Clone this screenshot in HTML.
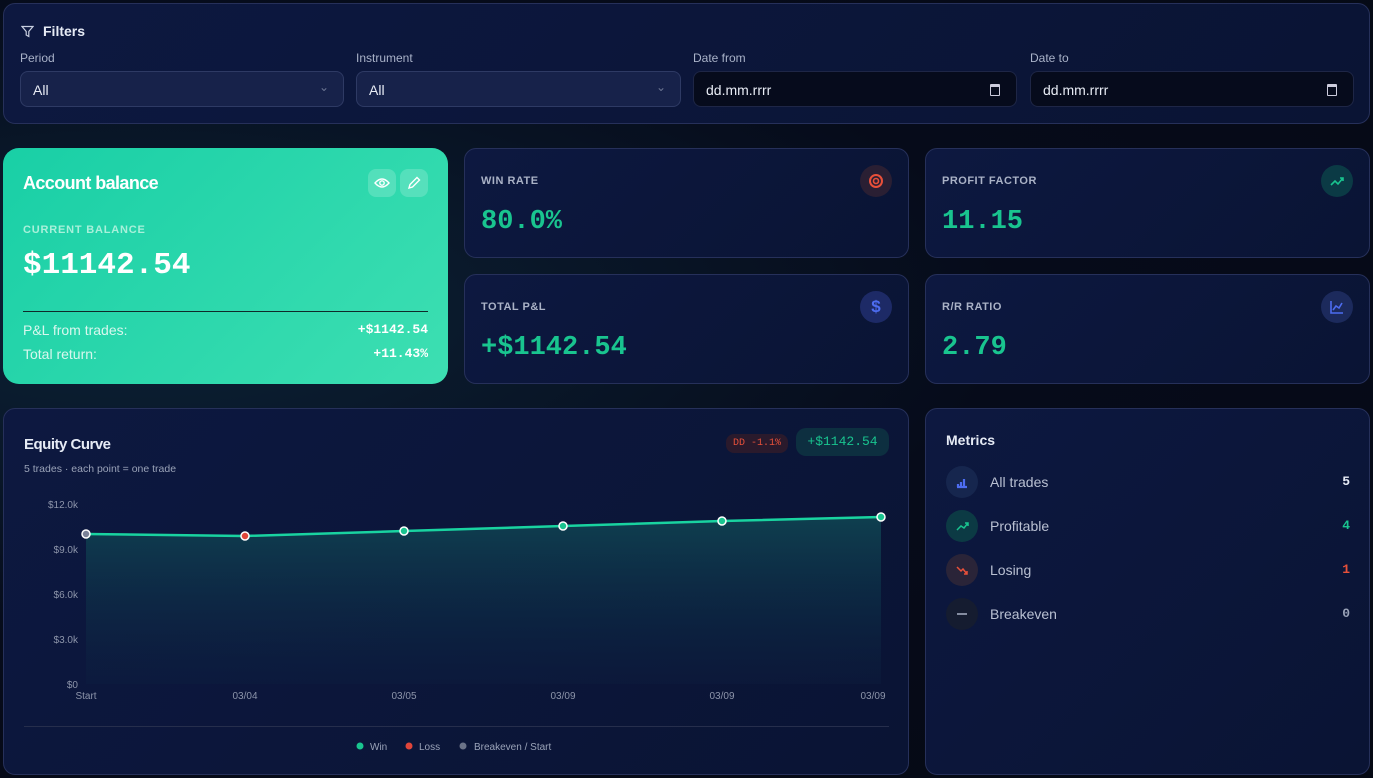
<!DOCTYPE html>
<html><head><meta charset="utf-8"><style>
*{box-sizing:border-box;margin:0;padding:0}
body{width:1373px;height:778px;overflow:hidden;background:radial-gradient(ellipse at 10% 40%,#0c2236 0%,#060b1a 50%,#050914 100%);font-family:"Liberation Sans",sans-serif;color:#e6ebf5;position:relative}
.p{position:absolute;border:1px solid #26305a;border-radius:12px;background:linear-gradient(135deg,#0d1840,#0a1434)}
.lbl{position:absolute;font-size:12px;color:#a9b2c8}
.inp{position:absolute;top:71px;height:36px;border-radius:8px;border:1px solid #2e3a64;background:#17224a;font-size:14px;padding:10px 12px;color:#e8ecf5}
.inp.d{background:#060b1c;border-color:#1e2646}
.mono{font-family:"Liberation Mono",monospace}
.sl{position:absolute;left:16px;top:26px;font-size:11px;font-weight:bold;letter-spacing:.5px;color:#aab2c6}
.sv{position:absolute;left:16px;top:58px;font-size:27px;font-weight:bold;color:#19c48f}
.ic{position:absolute;right:16px;top:16px;width:32px;height:32px;border-radius:50%}
.mr{position:absolute;left:20px;height:32px;width:404px}
.mr .c{position:absolute;left:0;top:0;width:32px;height:32px;border-radius:50%}
.mr .t{position:absolute;left:44px;top:8px;font-size:14px;color:#b9c0d2}
.mr .n{position:absolute;right:0;top:8px;font-size:13px;font-weight:bold}
</style></head><body>
<div class="p" style="left:3px;top:3px;width:1367px;height:121px">
 <svg style="position:absolute;left:17px;top:21px" width="13" height="13" viewBox="0 0 13 13"><path d="M1 1.5h11L7.8 6.5v5L5.2 10V6.5z" fill="none" stroke="#c8cfe0" stroke-width="1.2"/></svg>
 <div style="position:absolute;left:39px;top:19px;font-size:14px;font-weight:bold">Filters</div>
</div>
<div class="lbl" style="left:20px;top:51px">Period</div>
<div class="lbl" style="left:356px;top:51px">Instrument</div>
<div class="lbl" style="left:693px;top:51px">Date from</div>
<div class="lbl" style="left:1030px;top:51px">Date to</div>
<div class="inp" style="left:20px;width:324px">All<span style="position:absolute;right:14px;top:8px;color:#6b7592;font-size:12px">&#8964;</span></div>
<div class="inp" style="left:356px;width:325px">All<span style="position:absolute;right:14px;top:8px;color:#6b7592;font-size:12px">&#8964;</span></div>
<div class="inp d" style="left:693px;width:324px">dd.mm.rrrr<span style="position:absolute;right:16px;top:12px;width:10px;height:12px;border:1.5px solid #ccd;border-top-width:3px;border-radius:1px"></span></div>
<div class="inp d" style="left:1030px;width:324px">dd.mm.rrrr<span style="position:absolute;right:16px;top:12px;width:10px;height:12px;border:1.5px solid #ccd;border-top-width:3px;border-radius:1px"></span></div>

<div style="position:absolute;left:3px;top:148px;width:445px;height:236px;border-radius:16px;background:linear-gradient(135deg,#19cfa6,#3ddfb2)">
 <div style="position:absolute;left:20px;top:25px;font-size:18px;font-weight:bold;color:#fff;letter-spacing:-.6px">Account balance</div>
 <div style="position:absolute;left:365px;top:21px;width:28px;height:28px;border-radius:8px;background:rgba(255,255,255,.18)"><svg width="28" height="28" viewBox="0 0 28 28"><path d="M7 14q7-8 14 0q-7 8-14 0z" fill="none" stroke="#fff" stroke-width="1.4"/><circle cx="14" cy="14" r="2.2" fill="none" stroke="#fff" stroke-width="1.4"/></svg></div>
 <div style="position:absolute;left:397px;top:21px;width:28px;height:28px;border-radius:8px;background:rgba(255,255,255,.18)"><svg width="28" height="28" viewBox="0 0 28 28"><path d="M9 19l1-3.5 7-7 2.5 2.5-7 7z" fill="none" stroke="#fff" stroke-width="1.4"/></svg></div>
 <div style="position:absolute;left:20px;top:76px;font-size:11px;font-weight:bold;letter-spacing:.8px;color:#a8f0da">CURRENT BALANCE</div>
 <div class="mono" style="position:absolute;left:20px;top:100px;font-size:31px;font-weight:bold;color:#fff">$11142.54</div>
 <div style="position:absolute;left:20px;top:163px;width:405px;height:1px;background:#0e2a2a"></div>
 <div style="position:absolute;left:20px;top:174px;font-size:14px;color:#d8f7ee">P&amp;L from trades:</div>
 <div class="mono" style="position:absolute;right:20px;top:174px;font-size:13px;font-weight:bold;color:#fff">+$1142.54</div>
 <div style="position:absolute;left:20px;top:198px;font-size:14px;color:#d8f7ee">Total return:</div>
 <div class="mono" style="position:absolute;right:20px;top:198px;font-size:13px;font-weight:bold;color:#fff">+11.43%</div>
</div>

<div class="p" style="left:464px;top:148px;width:445px;height:110px"><div class="sl">WIN RATE</div><div class="sv mono">80.0%</div><div class="ic" style="background:#2a1f33"><svg width="32" height="32"><circle cx="16" cy="16" r="6" fill="none" stroke="#e8503a" stroke-width="2"/><circle cx="16" cy="16" r="2.5" fill="none" stroke="#e8503a" stroke-width="1.6"/></svg></div></div>
<div class="p" style="left:925px;top:148px;width:445px;height:110px"><div class="sl">PROFIT FACTOR</div><div class="sv mono">11.15</div><div class="ic" style="background:#0b3a45"><svg width="32" height="32"><path d="M10 20l4-4 3 3 5-6m-3 0h3v3" fill="none" stroke="#19c48f" stroke-width="1.6"/></svg></div></div>
<div class="p" style="left:464px;top:274px;width:445px;height:110px"><div class="sl">TOTAL P&amp;L</div><div class="sv mono">+$1142.54</div><div class="ic" style="background:#1d2a66;color:#4d6cf0;font-weight:bold;font-size:17px;text-align:center;line-height:32px">$</div></div>
<div class="p" style="left:925px;top:274px;width:445px;height:110px"><div class="sl">R/R RATIO</div><div class="sv mono">2.79</div><div class="ic" style="background:#1c2a5c"><svg width="32" height="32"><path d="M10 10v12h12M12 19l3-4 3 2 3-5" fill="none" stroke="#4d6cf0" stroke-width="1.6"/></svg></div></div>

<div class="p" style="left:3px;top:408px;width:906px;height:367px">
 <div style="position:absolute;left:20px;top:27px;font-size:15px;font-weight:bold;letter-spacing:-.5px">Equity Curve</div>
 <div style="position:absolute;left:20px;top:54px;font-size:10.5px;color:#9aa3b8">5 trades · each point = one trade</div>
 <div class="mono" style="position:absolute;left:722px;top:25px;width:62px;height:19px;border-radius:8px;background:#2a1a2c;color:#e8503a;font-size:10px;text-align:center;line-height:19px">DD -1.1%</div>
 <div class="mono" style="position:absolute;left:792px;top:19px;width:93px;height:28px;border-radius:10px;background:#0d2f40;color:#19c48f;font-size:13px;text-align:center;line-height:28px">+$1142.54</div>
 <div style="position:absolute;left:20px;top:317px;width:865px;height:1px;background:#262e4c"></div>
</div>
<svg style="position:absolute;left:0;top:0" width="1373" height="778">
 <defs><linearGradient id="g" x1="0" y1="0" x2="0" y2="1"><stop offset="0" stop-color="#0f4a55" stop-opacity=".8"/><stop offset="1" stop-color="#0d2040" stop-opacity=".3"/></linearGradient></defs>
 <path d="M86 534 L245 536 L404 531 L563 526 L722 521 L881 517 L881 684 L86 684Z" fill="url(#g)"/>
 <polyline points="86,534 245,536 404,531 563,526 722,521 881,517" fill="none" stroke="#19d3a0" stroke-width="2.5"/>
 <g stroke="#fff" stroke-width="1.5"><circle cx="86" cy="534" r="4" fill="#7a8298"/><circle cx="245" cy="536" r="4" fill="#e0453a"/><circle cx="404" cy="531" r="4" fill="#19c48f"/><circle cx="563" cy="526" r="4" fill="#19c48f"/><circle cx="722" cy="521" r="4" fill="#19c48f"/><circle cx="881" cy="517" r="4" fill="#19c48f"/></g>
 <g font-family="Liberation Sans" font-size="10" fill="#8d95aa" text-anchor="end"><text x="78" y="508">$12.0k</text><text x="78" y="553">$9.0k</text><text x="78" y="598">$6.0k</text><text x="78" y="643">$3.0k</text><text x="78" y="688">$0</text></g>
 <g font-family="Liberation Sans" font-size="10" fill="#8d95aa" text-anchor="middle"><text x="86" y="699">Start</text><text x="245" y="699">03/04</text><text x="404" y="699">03/05</text><text x="563" y="699">03/09</text><text x="722" y="699">03/09</text><text x="873" y="699">03/09</text></g>
 <g font-family="Liberation Sans" font-size="10" fill="#9aa3b8"><circle cx="360" cy="746" r="3.5" fill="#19c48f"/><text x="370" y="750">Win</text><circle cx="409" cy="746" r="3.5" fill="#e0453a"/><text x="419" y="750">Loss</text><circle cx="463" cy="746" r="3.5" fill="#6b7388"/><text x="474" y="750">Breakeven / Start</text></g>
</svg>

<div class="p" style="left:925px;top:408px;width:445px;height:367px">
 <div style="position:absolute;left:20px;top:23px;font-size:14px;font-weight:bold">Metrics</div>
 <div class="mr" style="top:57px"><div class="c" style="background:#16264e"><svg width="32" height="32"><path d="M11 21h10M12 18v3M15 16v5M18 13v8" stroke="#4d6cf0" stroke-width="2.2"/></svg></div><div class="t">All trades</div><div class="n mono" style="color:#e8ecf5">5</div></div>
 <div class="mr" style="top:101px"><div class="c" style="background:#0c3a44"><svg width="32" height="32"><path d="M11 20l4-4 3 2 4-5m-3 0h3v3" fill="none" stroke="#19c48f" stroke-width="1.5"/></svg></div><div class="t">Profitable</div><div class="n mono" style="color:#19c48f">4</div></div>
 <div class="mr" style="top:145px"><div class="c" style="background:#2a2438"><svg width="32" height="32"><path d="M11 13l4 4 2-2 4 5m0-3v3h-3" fill="none" stroke="#e8503a" stroke-width="1.5"/></svg></div><div class="t">Losing</div><div class="n mono" style="color:#e8503a">1</div></div>
 <div class="mr" style="top:189px"><div class="c" style="background:#151c30"><svg width="32" height="32"><path d="M11 16h10" stroke="#aab2c6" stroke-width="1.5"/></svg></div><div class="t">Breakeven</div><div class="n mono" style="color:#9aa3b8">0</div></div>
</div>
</body></html>
